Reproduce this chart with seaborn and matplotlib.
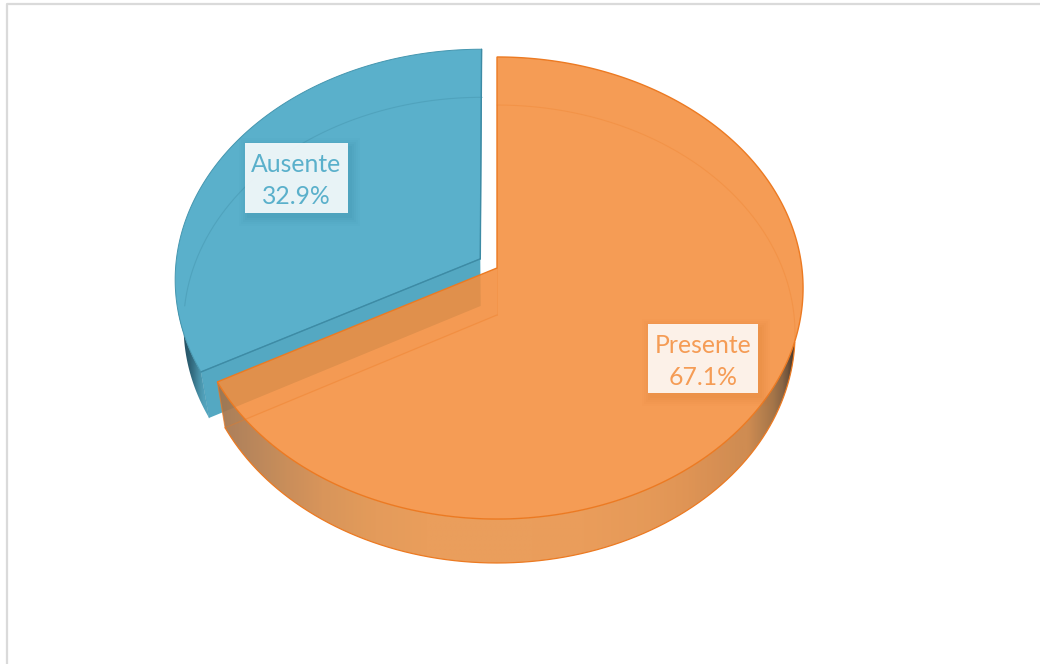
import numpy as np
import matplotlib
matplotlib.use("Agg")
import matplotlib.pyplot as plt
from matplotlib.patches import Polygon, Rectangle
from matplotlib.path import Path
from matplotlib.colors import to_rgb
import seaborn as sns

categories = ["Presente", "Ausente"]
shares = [67.1, 32.9]

sns.set_theme(style="white")
plt.rcParams["font.family"] = ["Lato", "DejaVu Sans"]

ORANGE_FACE = "#F48D3C"
ORANGE_EDGE = "#EC7A22"
BLUE_FACE = "#5AB0CB"
BLUE_CUT = "#54A8C2"
BLUE_EDGE = "#4596AF"

# Perspective parameters of the disc: upper rim and lower rim
UPPER = dict(cx=497.0, cy=268.0, a=304.9, b=229.3, k=0.0866)
LOWER = dict(cx=497.0, cy=315.0, a=297.0, b=227.4, k=0.083)
# In-plane shift of the pulled-out slice
EXPLODE = (-0.055, 0.04)


def project(rim, u, v):
    w = 1 + rim["k"] * v
    return rim["cx"] + rim["a"] * u / w, rim["cy"] - rim["b"] * v / w


def arc(rim, start, stop, shift=(0.0, 0.0), n=480):
    t = np.radians(np.linspace(start, stop, n))
    x, y = project(rim, np.sin(t) + shift[0], np.cos(t) + shift[1])
    return np.column_stack([x, y])


def hub(rim, shift=(0.0, 0.0)):
    x, y = project(rim, shift[0], shift[1])
    return np.array([[x, y]])


def rim_point(rim, angle, shift=(0.0, 0.0)):
    return arc(rim, angle, angle, shift, n=1)


def gradient_fill(ax, outline, palette, extent, alpha, zorder):
    patch = Polygon(outline, closed=True, transform=ax.transData, fc="none", ec="none")
    ax.add_patch(patch)
    ramp = np.array([[to_rgb(c) for c in palette]])
    img = ax.imshow(ramp, extent=extent, aspect="auto", interpolation="bilinear",
                    alpha=alpha, zorder=zorder)
    img.set_clip_path(patch)


def label_box(ax, x0, y0, x1, y1, shadow, zorder):
    for grow, a in zip([9, 7, 5, 3, 1], [0.03, 0.04, 0.05, 0.06, 0.07]):
        ax.add_patch(Rectangle((x0 - grow + 3, y0 - grow + 4), x1 - x0 + 2 * grow,
                               y1 - y0 + 2 * grow, fc=shadow, ec="none",
                               alpha=a, zorder=zorder))
    ax.add_patch(Rectangle((x0, y0), x1 - x0, y1 - y0, fc="white", ec="none",
                           alpha=0.88, zorder=zorder + 0.1))


fig = plt.figure(figsize=(10.4, 6.64), dpi=100)
ax = fig.add_axes([0, 0, 1, 1])
ax.set_xlim(0, 1040)
ax.set_ylim(664, 0)
ax.axis("off")

# Outer chart frame
ax.plot([7, 7, 1040], [664, 3.5, 3.5], color="#DADADA", lw=1.6, zorder=0)

sweep = [360 * s / sum(shares) for s in shares]
split = sweep[0]

# Pulled-out slice: outer wall, cut face, upper face
blue_wall = np.vstack([arc(UPPER, split, 360, EXPLODE),
                       arc(LOWER, split, 360, EXPLODE)[::-1]])
gradient_fill(ax, blue_wall, sns.blend_palette(["#1F4656", "#2F6579", "#4F9DB5", "#5AB0CB"], 8),
              (178, 215, 460, 260), 1.0, 1)
blue_cut = np.vstack([hub(UPPER, EXPLODE), rim_point(UPPER, split, EXPLODE),
                      rim_point(LOWER, split, EXPLODE), hub(LOWER, EXPLODE)])
ax.add_patch(Polygon(blue_cut, closed=True, fc=BLUE_CUT, ec="none", zorder=2))
blue_top = np.vstack([hub(UPPER, EXPLODE), arc(UPPER, split, 360, EXPLODE)])
ax.add_patch(Polygon(blue_top, closed=True, fc=BLUE_FACE, ec=BLUE_EDGE, lw=0.7, zorder=3))
ax.plot(*arc(LOWER, 270, 360, EXPLODE).T, color="#50A3BD", lw=0.8, zorder=3.1)
ax.plot(*np.vstack([hub(UPPER, EXPLODE), rim_point(UPPER, split, EXPLODE)]).T,
        color="#3D8BA5", lw=1.0, zorder=3.2)
ax.plot(*np.vstack([hub(UPPER, EXPLODE), rim_point(UPPER, 360, EXPLODE)]).T,
        color="#3D8BA5", lw=1.0, zorder=3.2)
ax.plot(*np.vstack([rim_point(UPPER, split, EXPLODE), rim_point(LOWER, split, EXPLODE)]).T,
        color=BLUE_EDGE, lw=0.6, alpha=0.5, zorder=3.2)

# Main slice: cut face, outer wall, upper face
orange_cut = np.vstack([hub(UPPER), rim_point(UPPER, split),
                        rim_point(LOWER, split), hub(LOWER)])
ax.add_patch(Polygon(orange_cut, closed=True, fc="#C98A52", ec="none", alpha=0.1, zorder=4))

# The wall only shows where the lower rim leaves the upper face
upper_rim = arc(UPPER, 0, split)
upper_outline = Path(np.vstack([hub(UPPER), upper_rim]))
lower_rim = arc(LOWER, 0, split)
outside = ~upper_outline.contains_points(lower_rim)
first = int(np.argmax(outside & (np.arange(len(lower_rim)) > 100)))
cross = lower_rim[first]
start = int(np.argmin(np.hypot(*(upper_rim - cross).T)))
orange_wall = np.vstack([upper_rim[start:], lower_rim[first:][::-1]])
# Long soft shading along the front, then a short dark fall-off at the right end
wall_ramp = (
    sns.blend_palette(["#A2754F", "#BE824E", "#D68D4D", "#E2944E", "#E9974F", "#E9974F",
                       "#E9974F", "#E9964E", "#E5934C", "#DD8C48", "#CC8345"], 106)
    + sns.blend_palette(["#CC8345", "#B57840", "#A06C3B", "#7A5535", "#1D1510"], 11)
)
gradient_fill(ax, orange_wall, wall_ramp, (215, 800, 600, 300), 0.93, 5)

orange_top = np.vstack([hub(UPPER), upper_rim])
ax.add_patch(Polygon(orange_top, closed=True, fc=ORANGE_FACE, ec="none", alpha=0.87, zorder=6))
ax.add_patch(Polygon(orange_top, closed=True, fc="none", ec=ORANGE_EDGE, lw=1.0, zorder=6.2))
ax.plot(*lower_rim[:first].T, color=ORANGE_EDGE, lw=0.8, alpha=0.25, zorder=6.1)
ax.plot(*np.vstack([hub(LOWER), rim_point(LOWER, split)]).T,
        color=ORANGE_EDGE, lw=0.9, alpha=0.35, zorder=6.1)
ax.plot(*np.vstack([hub(LOWER), rim_point(LOWER, 0)]).T,
        color=ORANGE_EDGE, lw=0.7, alpha=0.2, zorder=6.1)
# Lower rim and corner of the wall, drawn over the gradient
ax.plot(*lower_rim[first:].T, color=ORANGE_EDGE, lw=0.9, zorder=5.5)
ax.plot(*np.vstack([rim_point(UPPER, split), rim_point(LOWER, split)]).T,
        color=ORANGE_EDGE, lw=0.8, alpha=0.7, zorder=5.5)

# Data labels
label_box(ax, 648, 324, 758, 393, "#D9782A", 8)
label_box(ax, 245, 143, 348, 213, "#2F7F9A", 8)
for name, share, colour, cx, y1, y2 in [
    (categories[0], shares[0], "#F59C55", 703, 345.5, 377.5),
    (categories[1], shares[1], "#5AB0CB", 296, 164.5, 196.5),
]:
    ax.text(cx, y1, name, color=colour, fontsize=17.8, ha="center", va="center", zorder=9)
    ax.text(cx, y2, f"{share:.1f}%", color=colour, fontsize=17.8, ha="center", va="center", zorder=9)

ax.set_xlim(0, 1040)
ax.set_ylim(664, 0)
fig.savefig("out.png", dpi=100, facecolor="white")
